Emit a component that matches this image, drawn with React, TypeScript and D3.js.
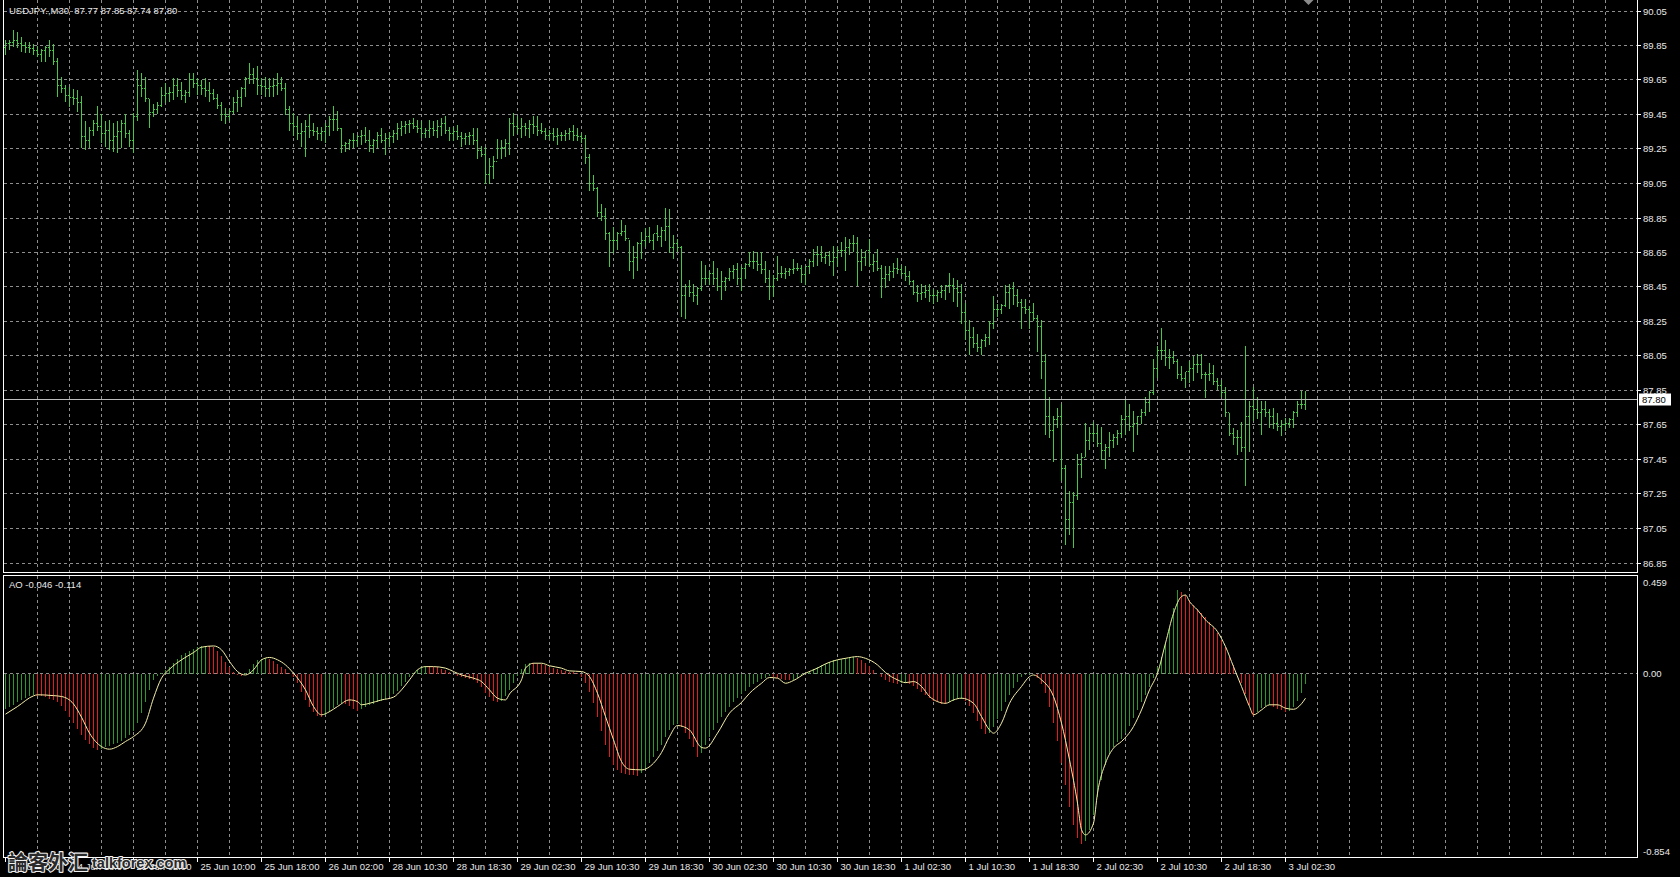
import { useEffect, useRef } from "react";
import * as d3 from "d3";

const W = 1680;
const H = 877;

const symbolTitle = "USDJPY.,M30  87.77 87.85 87.74 87.80";
const aoTitle = "AO -0.046 -0.114";
const lastPrice = 87.8;
const firstOpen = 89.84;

const timeLabels = [
  "24 Jun 2010", "24 Jun 18:00", "25 Jun 02:00", "25 Jun 10:00", "25 Jun 18:00",
  "26 Jun 02:00", "28 Jun 10:30", "28 Jun 18:30", "29 Jun 02:30", "29 Jun 10:30",
  "29 Jun 18:30", "30 Jun 02:30", "30 Jun 10:30", "30 Jun 18:30", "1 Jul 02:30",
  "1 Jul 10:30", "1 Jul 18:30", "2 Jul 02:30", "2 Jul 10:30", "2 Jul 18:30",
  "3 Jul 02:30",
];

const priceTicks = [
  90.05, 89.85, 89.65, 89.45, 89.25, 89.05, 88.85, 88.65, 88.45,
  88.25, 88.05, 87.85, 87.65, 87.45, 87.25, 87.05, 86.85,
];

const aoMax = 0.459;
const aoMin = -0.854;

// USDJPY M30 bars
const high = [
  89.88,89.88,89.94,89.93,89.90,89.87,89.87,89.86,89.85,89.83,
  89.85,89.88,89.86,89.78,89.67,89.62,89.61,89.60,89.59,89.56,
  89.41,89.38,89.42,89.50,89.45,89.41,89.42,89.40,89.41,89.42,
  89.45,89.36,89.46,89.71,89.69,89.67,89.54,89.51,89.52,89.61,
  89.63,89.61,89.66,89.66,89.64,89.59,89.69,89.69,89.66,89.65,
  89.66,89.64,89.60,89.57,89.52,89.49,89.48,89.55,89.59,89.61,
  89.67,89.75,89.72,89.73,89.66,89.67,89.66,89.66,89.69,89.67,
  89.63,89.50,89.46,89.44,89.40,89.42,89.45,89.40,89.38,89.38,
  89.40,89.44,89.50,89.47,89.37,89.29,89.31,89.34,89.33,89.36,
  89.38,89.36,89.31,89.35,89.37,89.34,89.35,89.36,89.40,89.41,
  89.41,89.42,89.43,89.42,89.41,89.37,89.42,89.41,89.42,89.43,
  89.44,89.38,89.38,89.39,89.35,89.34,89.35,89.37,89.37,89.27,
  89.26,89.20,89.21,89.31,89.30,89.31,89.43,89.46,89.44,89.43,
  89.40,89.42,89.44,89.44,89.40,89.37,89.36,89.37,89.37,89.35,
  89.36,89.37,89.39,89.37,89.34,89.33,89.22,89.10,89.03,88.93,
  88.91,88.77,88.80,88.77,88.84,88.81,88.72,88.69,88.71,88.77,
  88.79,88.80,88.76,88.81,88.80,88.91,88.90,88.75,88.73,88.69,
  88.47,88.49,88.47,88.45,88.60,88.58,88.54,88.60,88.56,88.54,
  88.51,88.56,88.58,88.59,88.57,88.59,88.65,88.66,88.65,88.65,
  88.60,88.55,88.52,88.63,88.57,88.56,88.56,88.61,88.59,88.58,
  88.57,88.61,88.67,88.69,88.69,88.65,88.66,88.69,88.68,88.71,
  88.74,88.73,88.75,88.74,88.67,88.66,88.73,88.64,88.67,88.58,
  88.57,88.57,88.59,88.62,88.58,88.57,88.54,88.49,88.46,88.47,
  88.46,88.47,88.44,88.43,88.46,88.46,88.53,88.50,88.49,88.47,
  88.36,88.26,88.22,88.18,88.15,88.18,88.25,88.40,88.35,88.35,
  88.46,88.47,88.48,88.44,88.38,88.38,88.34,88.36,88.29,88.26,
  88.06,87.81,87.70,87.75,87.77,87.42,87.27,87.26,87.48,87.49,
  87.66,87.64,87.67,87.65,87.64,87.54,87.61,87.60,87.62,87.71,
  87.80,87.77,87.73,87.70,87.74,87.81,87.85,88.03,88.11,88.21,
  88.14,88.09,88.08,88.03,87.99,87.96,88.02,88.05,88.06,88.06,
  87.96,88.01,88.00,87.92,87.91,87.87,87.72,87.63,87.62,87.67,
  88.11,87.79,87.87,87.81,87.79,87.79,87.74,87.75,87.72,87.68,
  87.69,87.69,87.73,87.79,87.85,87.85,
];

const low = [
  89.80,89.83,89.85,89.84,89.82,89.81,89.81,89.80,89.79,89.76,
  89.76,89.79,89.74,89.56,89.58,89.53,89.50,89.51,89.47,89.26,
  89.25,89.26,89.33,89.36,89.29,89.27,89.25,89.24,89.23,89.26,
  89.32,89.27,89.23,89.42,89.56,89.53,89.38,89.44,89.46,89.50,
  89.52,89.53,89.54,89.56,89.54,89.52,89.56,89.61,89.57,89.57,
  89.56,89.53,89.54,89.49,89.42,89.40,89.42,89.46,89.47,89.50,
  89.56,89.63,89.63,89.57,89.57,89.56,89.56,89.56,89.57,89.59,
  89.45,89.36,89.33,89.31,89.27,89.21,89.32,89.33,89.31,89.30,
  89.29,89.33,89.36,89.36,89.23,89.24,89.25,89.26,89.27,89.28,
  89.29,89.24,89.23,89.26,89.29,89.22,89.27,89.29,89.31,89.33,
  89.34,89.35,89.37,89.35,89.32,89.32,89.32,89.33,89.32,89.33,
  89.34,89.30,89.30,89.31,89.27,89.28,89.28,89.28,89.20,89.21,
  89.05,89.05,89.08,89.20,89.20,89.21,89.22,89.33,89.34,89.32,
  89.33,89.32,89.34,89.33,89.34,89.31,89.31,89.30,89.28,89.30,
  89.30,89.31,89.30,89.30,89.29,89.17,89.01,89.01,88.86,88.84,
  88.73,88.57,88.65,88.67,88.75,88.72,88.55,88.50,88.55,88.62,
  88.69,88.71,88.67,88.72,88.69,88.72,88.65,88.62,88.66,88.28,
  88.27,88.40,88.37,88.35,88.43,88.47,88.47,88.47,88.43,88.38,
  88.43,88.49,88.50,88.47,88.43,88.50,88.57,88.56,88.55,88.53,
  88.48,88.38,88.40,88.49,88.51,88.50,88.52,88.53,88.55,88.48,
  88.47,88.53,88.57,88.58,88.60,88.59,88.58,88.52,88.57,88.63,
  88.55,88.64,88.66,88.46,88.55,88.58,88.57,88.54,88.55,88.39,
  88.45,88.49,88.51,88.53,88.52,88.49,88.47,88.41,88.37,88.38,
  88.39,88.37,88.36,88.37,88.39,88.38,88.42,88.37,88.34,88.24,
  88.15,88.06,88.10,88.08,88.06,88.11,88.12,88.21,88.28,88.30,
  88.34,88.33,88.35,88.34,88.21,88.30,88.21,88.26,88.08,87.92,
  87.60,87.58,87.44,87.64,87.33,86.96,87.02,86.94,87.22,87.35,
  87.47,87.51,87.56,87.53,87.45,87.40,87.47,87.52,87.54,87.58,
  87.60,87.62,87.50,87.60,87.66,87.71,87.73,87.83,87.93,88.03,
  88.00,87.98,88.01,87.92,87.91,87.87,87.90,87.91,87.96,87.92,
  87.81,87.91,87.89,87.86,87.82,87.70,87.59,87.54,87.48,87.50,
  87.30,87.50,87.68,87.69,87.60,87.70,87.64,87.63,87.62,87.59,
  87.62,87.64,87.64,87.70,87.75,87.74,
];

const close = [
  89.86,89.87,89.88,89.86,89.85,89.84,89.83,89.82,89.80,89.82,
  89.84,89.82,89.76,89.62,89.60,89.56,89.55,89.54,89.52,89.32,
  89.30,89.36,89.40,89.38,89.34,89.36,89.30,89.32,89.35,89.40,
  89.34,89.30,89.44,89.62,89.60,89.54,89.46,89.48,89.50,89.56,
  89.57,89.58,89.62,89.59,89.56,89.58,89.65,89.63,89.62,89.60,
  89.59,89.57,89.54,89.50,89.45,89.44,89.47,89.52,89.55,89.60,
  89.66,89.68,89.66,89.62,89.61,89.60,89.61,89.62,89.63,89.60,
  89.48,89.40,89.38,89.34,89.35,89.38,89.36,89.35,89.34,89.35,
  89.38,89.42,89.42,89.37,89.27,89.28,89.30,89.30,89.32,89.33,
  89.30,89.27,89.30,89.33,89.30,89.31,89.32,89.34,89.37,89.38,
  89.39,89.40,89.38,89.37,89.34,89.36,89.37,89.36,89.38,89.40,
  89.36,89.34,89.35,89.32,89.31,89.32,89.33,89.30,89.24,89.22,
  89.10,89.15,89.18,89.25,89.26,89.28,89.40,89.38,89.37,89.38,
  89.37,89.39,89.38,89.36,89.35,89.33,89.34,89.32,89.33,89.33,
  89.34,89.35,89.33,89.32,89.31,89.20,89.05,89.02,88.88,88.86,
  88.76,88.72,88.72,88.76,88.77,88.73,88.60,88.62,88.70,88.72,
  88.74,88.72,88.76,88.74,88.78,88.80,88.68,88.70,88.68,88.40,
  88.45,88.42,88.40,88.44,88.50,88.50,88.53,88.50,88.45,88.48,
  88.50,88.54,88.55,88.50,88.56,88.58,88.60,88.60,88.58,88.55,
  88.50,88.45,88.50,88.53,88.53,88.54,88.55,88.56,88.56,88.52,
  88.57,88.60,88.64,88.64,88.62,88.63,88.60,88.62,88.66,88.66,
  88.68,88.70,88.70,88.60,88.62,88.66,88.58,88.60,88.56,88.50,
  88.52,88.54,88.56,88.55,88.53,88.51,88.48,88.42,88.41,88.42,
  88.43,88.40,88.40,88.42,88.43,88.46,88.46,88.44,88.42,88.30,
  88.20,88.16,88.12,88.10,88.14,88.16,88.24,88.32,88.32,88.34,
  88.42,88.44,88.40,88.36,88.33,88.32,88.30,88.27,88.22,88.02,
  87.70,87.62,87.68,87.70,87.40,87.10,87.20,87.24,87.42,87.46,
  87.56,87.60,87.60,87.54,87.50,87.52,87.56,87.58,87.60,87.68,
  87.70,87.64,87.66,87.70,87.72,87.78,87.84,87.98,88.08,88.08,
  88.04,88.04,88.02,87.94,87.92,87.96,87.98,88.00,88.00,87.94,
  87.94,87.95,87.90,87.88,87.84,87.72,87.60,87.58,87.58,87.52,
  87.70,87.76,87.74,87.72,87.74,87.72,87.70,87.66,87.64,87.65,
  87.66,87.68,87.72,87.77,87.77,87.80,
];

// Awesome Oscillator histogram, one value per bar
const ao = [
  -0.166,-0.156,-0.145,-0.134,-0.122,-0.113,-0.103,-0.100,-0.102,-0.105,
  -0.109,-0.116,-0.123,-0.134,-0.150,-0.172,-0.200,-0.231,-0.259,-0.286,
  -0.309,-0.330,-0.347,-0.359,-0.350,-0.344,-0.338,-0.330,-0.322,-0.313,
  -0.302,-0.288,-0.266,-0.231,-0.184,-0.130,-0.075,-0.031,-0.009,0.003,
  0.016,0.034,0.053,0.072,0.088,0.100,0.109,0.119,0.125,0.130,
  0.133,0.131,0.125,0.109,0.084,0.056,0.031,0.009,-0.006,-0.009,
  0.003,0.025,0.047,0.063,0.072,0.075,0.069,0.059,0.047,0.034,
  0.022,0.006,-0.013,-0.044,-0.083,-0.122,-0.156,-0.181,-0.197,-0.203,
  -0.192,-0.177,-0.161,-0.147,-0.138,-0.141,-0.150,-0.163,-0.172,-0.166,
  -0.156,-0.148,-0.141,-0.134,-0.125,-0.116,-0.106,-0.094,-0.078,-0.059,
  -0.038,-0.016,0.003,0.019,0.031,0.038,0.036,0.034,0.030,0.023,
  0.016,0.008,0.000,-0.008,-0.014,-0.019,-0.023,-0.031,-0.044,-0.063,
  -0.088,-0.109,-0.125,-0.134,-0.125,-0.103,-0.075,-0.044,-0.009,0.022,
  0.047,0.053,0.052,0.048,0.045,0.041,0.034,0.028,0.023,0.019,
  0.014,0.011,0.008,0.003,-0.013,-0.041,-0.083,-0.138,-0.200,-0.270,
  -0.333,-0.388,-0.427,-0.450,-0.463,-0.469,-0.472,-0.475,-0.478,-0.466,
  -0.447,-0.419,-0.391,-0.363,-0.333,-0.294,-0.263,-0.239,-0.234,-0.250,
  -0.275,-0.306,-0.341,-0.388,-0.369,-0.333,-0.297,-0.263,-0.231,-0.203,
  -0.177,-0.153,-0.131,-0.113,-0.094,-0.078,-0.063,-0.048,-0.036,-0.025,
  -0.017,-0.011,-0.013,-0.017,-0.022,-0.028,-0.031,-0.028,-0.020,-0.009,
  0.003,0.013,0.022,0.031,0.041,0.048,0.056,0.063,0.067,0.070,
  0.073,0.075,0.077,0.075,0.066,0.053,0.038,0.019,0.000,-0.016,
  -0.028,-0.038,-0.044,-0.047,-0.044,-0.041,-0.047,-0.056,-0.069,-0.083,
  -0.098,-0.113,-0.125,-0.134,-0.141,-0.142,-0.134,-0.125,-0.119,-0.116,
  -0.125,-0.150,-0.184,-0.223,-0.259,-0.281,-0.275,-0.247,-0.213,-0.172,
  -0.134,-0.098,-0.066,-0.038,-0.016,-0.003,0.003,0.000,-0.020,-0.047,
  -0.091,-0.153,-0.231,-0.317,-0.419,-0.520,-0.622,-0.708,-0.770,-0.797,
  -0.786,-0.731,-0.661,-0.575,-0.497,-0.427,-0.375,-0.341,-0.320,-0.306,
  -0.278,-0.244,-0.206,-0.169,-0.134,-0.098,-0.063,-0.020,0.034,0.081,
  0.144,0.222,0.308,0.394,0.386,0.370,0.347,0.323,0.303,0.284,
  0.266,0.244,0.219,0.191,0.159,0.125,0.084,0.042,0.000,-0.044,
  -0.094,-0.145,-0.197,-0.177,-0.161,-0.152,-0.145,-0.153,-0.163,-0.170,
  -0.177,-0.172,-0.153,-0.125,-0.091,-0.046,
];

// smoothed signal line drawn over the histogram: bar index and value at its turning points
const sigBar = [
  0,3,7,8,12,14,17,19,21,24,26,28,30,32,35,37,39,41,44,47,49,52,54,56,58,60,62,64,66,68,70,72,
  75,77,79,81,83,86,88,89,91,94,97,99,101,103,105,107,110,112,114,117,119,121,123,125,126,129,
  130,132,134,136,139,141,144,146,148,150,152,154,156,159,162,164,166,168,171,174,175,178,181,
  184,186,189,191,193,195,197,200,203,205,208,210,213,215,218,220,223,225,227,229,231,233,235,
  237,239,242,244,246,247,249,251,254,256,257,259,262,264,266,268,269,270,272,273,275,277,279,
  282,284,286,288,290,292,294,295,296,298,300,303,305,307,309,311,312,314,316,318,320,322,324,325,
];
const sigVal = [
  -0.189,-0.153,-0.103,-0.098,-0.102,-0.106,-0.141,-0.203,-0.278,-0.341,-0.353,-0.341,-0.317,
  -0.294,-0.231,-0.114,-0.020,0.022,0.066,0.100,0.125,0.131,0.113,0.058,0.011,-0.005,0.019,
  0.066,0.077,0.066,0.042,0.003,
  -0.075,-0.153,-0.192,-0.177,-0.153,-0.122,-0.130,-0.145,-0.138,-0.122,-0.109,-0.075,-0.028,
  0.019,0.034,0.034,0.027,0.011,-0.005,-0.020,-0.036,-0.075,-0.114,-0.122,-0.094,-0.028,
  0.027,0.050,0.050,0.038,0.027,0.014,0.011,-0.013,-0.091,-0.200,-0.309,-0.411,-0.447,-0.450,
  -0.419,-0.369,-0.294,-0.242,-0.263,-0.345,-0.348,-0.278,-0.184,
  -0.134,-0.091,-0.044,-0.017,-0.020,-0.044,-0.031,0.003,0.027,0.047,0.066,0.073,0.081,0.073,
  0.042,0.006,-0.028,-0.041,-0.036,-0.059,-0.106,-0.130,-0.138,
  -0.122,-0.114,-0.138,-0.200,-0.263,-0.278,-0.231,-0.138,-0.059,-0.013,-0.005,-0.028,-0.106,
  -0.231,-0.403,-0.606,-0.731,-0.755,-0.700,-0.559,-0.419,-0.348,-0.317,
  -0.247,-0.169,-0.075,0.003,0.144,0.284,0.363,0.370,0.339,0.300,0.253,0.198,0.128,0.034,
  -0.059,-0.153,-0.192,-0.169,-0.145,-0.145,-0.161,-0.166,-0.140,-0.114,
];

export default function App() {
  const svgRef = useRef<SVGSVGElement>(null);

  useEffect(() => {
    if (!svgRef.current) return;
    document.body.style.margin = "0";
    const svg = d3.select(svgRef.current);
    svg.selectAll("*").remove();

    const frameL = 3.5;
    const frameR = 1637.5;
    const priceBottom = 572.5;
    const aoTop = 575.5;
    const aoBottom = 857.5;
    const font = "'Liberation Sans', Arial, sans-serif";
    const gridColor = "#8e8e8e";
    const textColor = "#e8e8e8";
    const barColor = "#46c846";

    const x = d3.scaleLinear().domain([0, 325]).range([5.5, 1305.5]);
    const yP = d3.scaleLinear().domain([86.85, 90.05]).range([563, 11]);
    const yA = d3.scaleLinear().domain([aoMin, aoMax]).range([856, 576]);
    const crisp = (v: number) => Math.round(v - 0.5) + 0.5;

    svg.append("rect").attr("width", W).attr("height", H).attr("fill", "#000");

    // grid
    const grid = svg.append("g")
      .attr("stroke", gridColor)
      .attr("stroke-width", 1)
      .attr("stroke-dasharray", "3,3")
      .attr("shape-rendering", "crispEdges");

    const vIdx = d3.range(8, 408, 8);
    vIdx.forEach((i) => {
      grid.append("line").attr("x1", x(i)).attr("x2", x(i)).attr("y1", 0).attr("y2", priceBottom);
      grid.append("line").attr("x1", x(i)).attr("x2", x(i)).attr("y1", aoTop).attr("y2", aoBottom);
    });
    priceTicks.forEach((p) => {
      const y = crisp(yP(p));
      grid.append("line").attr("x1", frameL).attr("x2", frameR).attr("y1", y).attr("y2", y);
    });
    const y0 = crisp(yA(0));
    grid.append("line").attr("x1", frameL).attr("x2", frameR).attr("y1", y0).attr("y2", y0);

    // price bars (open = previous bar's close)
    const bars = svg.append("g")
      .attr("stroke", barColor)
      .attr("stroke-width", 1)
      .attr("shape-rendering", "crispEdges");
    high.forEach((h, i) => {
      const cx = x(i);
      const open = i === 0 ? firstOpen : close[i - 1];
      bars.append("line")
        .attr("x1", cx).attr("x2", cx)
        .attr("y1", Math.round(yP(h))).attr("y2", Math.round(yP(low[i])) + 1);
      const yo = crisp(yP(open));
      const yc = crisp(yP(close[i]));
      bars.append("line").attr("x1", cx - 1.5).attr("x2", cx - 0.5).attr("y1", yo).attr("y2", yo);
      bars.append("line").attr("x1", cx + 0.5).attr("x2", cx + 1.5).attr("y1", yc).attr("y2", yc);
    });

    // last price line
    const yLast = crisp(yP(lastPrice));
    svg.append("line")
      .attr("x1", frameL).attr("x2", frameR).attr("y1", yLast).attr("y2", yLast)
      .attr("stroke", "#bdbdbd").attr("stroke-width", 1)
      .attr("shape-rendering", "crispEdges");

    // AO histogram
    const hist = svg.append("g").attr("stroke-width", 1).attr("shape-rendering", "crispEdges");
    let up = true;
    ao.forEach((v, i) => {
      if (i > 0) {
        if (v > ao[i - 1]) up = true;
        else if (v < ao[i - 1]) up = false;
      }
      hist.append("line")
        .attr("x1", x(i)).attr("x2", x(i))
        .attr("y1", yA(0)).attr("y2", yA(v))
        .attr("stroke", up ? "#2b9a2b" : "#e31c1c");
    });

    // signal line
    const pts = sigBar.map((b, k) => [b, sigVal[k]] as [number, number]);
    const line = d3.line<[number, number]>()
      .x((d) => x(d[0]))
      .y((d) => yA(d[1]))
      .curve(d3.curveMonotoneX);
    svg.append("path")
      .datum(pts)
      .attr("d", line)
      .attr("fill", "none")
      .attr("stroke", "#f6f0a8")
      .attr("stroke-width", 1);

    // frames
    const frame = svg.append("g").attr("stroke", "#ffffff").attr("stroke-width", 1)
      .attr("fill", "none").attr("shape-rendering", "crispEdges");
    frame.append("path").attr("d", `M${frameL},0V${priceBottom}H${frameR}V0`);
    frame.append("path").attr("d", `M${frameL},${aoTop}H${frameR}V${aoBottom}H${frameL}Z`);

    // chart shift marker
    svg.append("path")
      .attr("d", d3.line()([[x(325) - 2, 0], [x(325) + 8, 0], [x(325) + 3, 5]]) + "Z")
      .attr("fill", "#8a8a8a");

    // price scale
    const axisG = svg.append("g").attr("font-family", font).attr("font-size", 9.5).attr("fill", textColor);
    priceTicks.forEach((p) => {
      const y = crisp(yP(p));
      svg.append("line").attr("x1", frameR).attr("x2", frameR + 3).attr("y1", y).attr("y2", y)
        .attr("stroke", "#ffffff").attr("shape-rendering", "crispEdges");
      axisG.append("text").attr("x", 1643).attr("y", y + 3.5).text(p.toFixed(2));
    });
    svg.append("rect").attr("x", 1639).attr("y", yLast - 6).attr("width", 32).attr("height", 12)
      .attr("fill", "#ffffff");
    svg.append("text").attr("x", 1642).attr("y", yLast + 3.5)
      .attr("font-family", font).attr("font-size", 9.5).attr("fill", "#000")
      .text(lastPrice.toFixed(2));

    // AO scale
    axisG.append("text").attr("x", 1643).attr("y", 585.5).text(aoMax.toFixed(3));
    axisG.append("text").attr("x", 1643).attr("y", y0 + 3.5).text((0).toFixed(2));
    axisG.append("text").attr("x", 1643).attr("y", 854.5).text(aoMin.toFixed(3));

    // time axis
    timeLabels.forEach((t, k) => {
      const tx = x(k * 16);
      svg.append("line").attr("x1", tx).attr("x2", tx).attr("y1", aoBottom).attr("y2", aoBottom + 4)
        .attr("stroke", "#ffffff").attr("shape-rendering", "crispEdges");
      axisG.append("text").attr("x", tx + 3).attr("y", 870).text(t);
    });

    // window titles
    svg.append("text").attr("x", 9).attr("y", 13.5)
      .attr("font-family", font).attr("font-size", 9.5).attr("fill", textColor)
      .style("white-space", "pre").text(symbolTitle);
    svg.append("text").attr("x", 9).attr("y", 587.5)
      .attr("font-family", font).attr("font-size", 9.5).attr("fill", textColor)
      .style("white-space", "pre").text(aoTitle);

    // watermark
    const wm = svg.append("g").attr("fill", "#2a2a2a").attr("stroke", "#f0f0f0")
      .attr("stroke-width", 2.2).attr("paint-order", "stroke").attr("stroke-linejoin", "round");
    wm.append("text").attr("x", 8).attr("y", 870)
      .attr("font-family", "'Noto Sans CJK SC', sans-serif").attr("font-weight", 700)
      .attr("font-size", 20).text("論客外汇");
    wm.append("text").attr("x", 92).attr("y", 868)
      .attr("font-family", font).attr("font-weight", 700)
      .attr("font-size", 14.5).text("talkforex.com");
  }, []);

  return (
    <svg
      ref={svgRef}
      width={W}
      height={H}
      style={{ position: "absolute", left: 0, top: 0, display: "block", background: "#000" }}
    />
  );
}
